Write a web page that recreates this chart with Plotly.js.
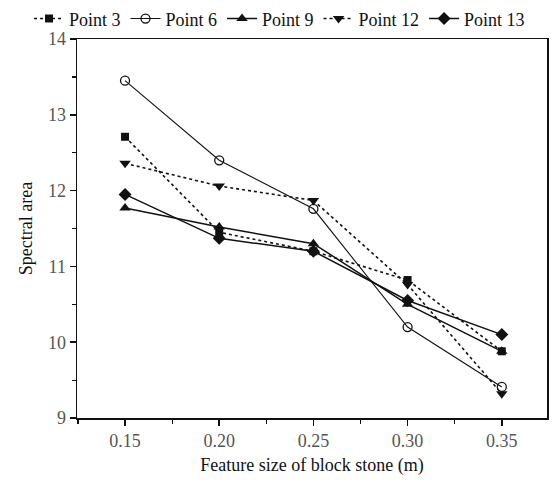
<!DOCTYPE html>
<html>
<head>
<meta charset="utf-8">
<script src="https://cdn.plot.ly/plotly-3.0.1.min.js"></script>
<style>html,body{margin:0;padding:0;background:#fff;}#chart{width:557px;height:485px;}</style>
</head>
<body>
<div id="chart"></div>
<script>
const featureSize = [0.15, 0.20, 0.25, 0.30, 0.35];
const point3  = [12.71, 11.45, 11.20, 10.82, 9.88];
const point6  = [13.45, 12.40, 11.76, 10.20, 9.41];
const point9  = [11.77, 11.52, 11.30, 10.50, 9.88];
const point12 = [12.36, 12.06, 11.87, 10.76, 9.32];
const point13 = [11.95, 11.37, 11.20, 10.55, 10.10];
const xTickVals = [0.15, 0.20, 0.25, 0.30, 0.35];
const xTickText = ["0.15", "0.20", "0.25", "0.30", "0.35"];

const series = [
  {name: "Point 3",  y: point3,  dash: "dot",   symbol: "square",        w: 1.6, size: 8},
  {name: "Point 6",  y: point6,  dash: "solid", symbol: "circle-open",   w: 1.1, size: 9},
  {name: "Point 9",  y: point9,  dash: "solid", symbol: "triangle-up",   w: 1.5, size: 10},
  {name: "Point 12", y: point12, dash: "dot",   symbol: "triangle-down", w: 1.6, size: 10},
  {name: "Point 13", y: point13, dash: "solid", symbol: "diamond",       w: 1.5, size: 10}
];

const traces = series.map(s => ({
  type: "scatter", mode: "lines+markers", name: s.name,
  x: featureSize, y: s.y,
  line: {color: "#111", width: s.w, dash: s.dash},
  marker: {symbol: s.symbol, size: s.size, color: "#111",
           line: {color: "#111", width: s.symbol === "circle-open" ? 1.3 : 0}}
}));

const layout = {
  width: 557, height: 485,
  margin: {l: 77, r: 0, t: 39, b: 67},
  paper_bgcolor: "#fff", plot_bgcolor: "#fff",
  font: {family: "Liberation Serif, Times New Roman, serif", color: "#111", size: 18},
  showlegend: true,
  legend: {orientation: "h", x: -0.1, xanchor: "left", y: 1.102, yanchor: "top",
           font: {family: "Liberation Serif, serif", size: 18, color: "#111"},
           itemwidth: 30, tracegroupgap: 0,
           bgcolor: "rgba(0,0,0,0)", borderwidth: 0},
  xaxis: {
    domain: [0, 470 / 480],
    range: [0.1245, 0.374], tickvals: xTickVals, ticktext: xTickText,
    showgrid: false, zeroline: false, showline: true, linecolor: "#111", linewidth: 1.5,
    mirror: true, ticks: "outside", ticklen: 6, tickwidth: 1.5, tickcolor: "#111",
    tickfont: {family: "Liberation Serif, serif", size: 18, color: "#555"},
    minor: {dtick: 0.05, tick0: 0.125, ticks: "outside", ticklen: 4, tickwidth: 1.2, tickcolor: "#111", showgrid: false},
    title: {text: "Feature size of block stone (m)", font: {family: "Liberation Serif, serif", size: 18, color: "#111"}, standoff: 8}
  },
  yaxis: {
    range: [9, 14], dtick: 1,
    showgrid: false, zeroline: false, showline: true, linecolor: "#111", linewidth: 1.5,
    mirror: true, ticks: "outside", ticklen: 6, tickwidth: 1.5, tickcolor: "#111",
    tickfont: {family: "Liberation Serif, serif", size: 18, color: "#555"},
    minor: {dtick: 0.5, ticks: "outside", ticklen: 4, tickwidth: 1.2, tickcolor: "#111", showgrid: false},
    title: {text: "Spectral area", font: {family: "Liberation Serif, serif", size: 18, color: "#111"}, standoff: 10}
  }
};

Plotly.newPlot("chart", traces, layout, {displayModeBar: false, staticPlot: true});
</script>
</body>
</html>
